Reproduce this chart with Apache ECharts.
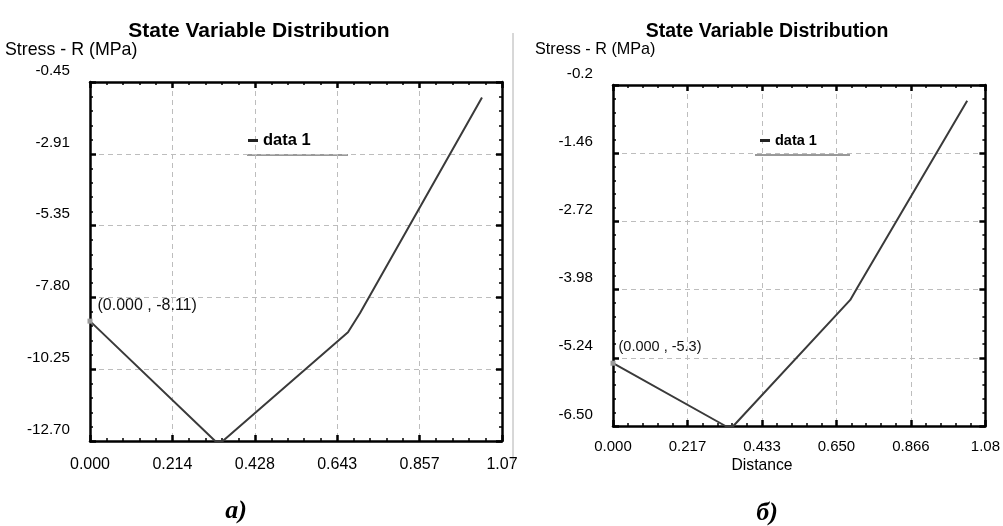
<!DOCTYPE html>
<html>
<head>
<meta charset="utf-8">
<script src="https://cdn.jsdelivr.net/npm/echarts@6/dist/echarts.min.js"></script>
<style>
  html, body { margin: 0; padding: 0; background: #fff; }
  #chart { width: 1003px; height: 526px; }
</style>
</head>
<body>
<div id="chart"></div>
<script>
// --- data ---
const titleText = "State Variable Distribution";
const yName = "Stress - R (MPa)";
const seriesName = "data 1";

// panel a)
const leftXLabels = ["0.000", "0.214", "0.428", "0.643", "0.857", "1.07"];
const leftYLabels = ["-12.70", "-10.25", "-7.80", "-5.35", "-2.91", "-0.45"];
const leftLine = [[0, -8.61], [0.325, -12.70], [0.345, -12.70], [0.670, -8.99], [0.701, -8.34], [1.018, -0.98]];
const leftNote = "(0.000 , -8.11)";

// panel б)
const rightXLabels = ["0.000", "0.217", "0.433", "0.650", "0.866", "1.08"];
const rightYLabels = ["-6.50", "-5.24", "-3.98", "-2.72", "-1.46", "-0.2"];
const rightLine = [[0, -5.34], [0.327, -6.50], [0.350, -6.50], [0.690, -4.17], [0.710, -3.95], [1.030, -0.49]];
const rightNote = "(0.000 , -5.3)";

const captions = ["а)", "б)"];

const sans = '"Liberation Sans", Arial, sans-serif';
const serif = '"Liberation Serif", "DejaVu Serif", serif';

const chart = echarts.init(document.getElementById("chart"));

function nearestLabel(values, labels, v) {
  let best = 0;
  values.forEach((t, i) => {
    if (Math.abs(t - v) < Math.abs(values[best] - v)) best = i;
  });
  return labels[best];
}

function minorValues(majors, parts) {
  const out = [];
  for (let i = 0; i < majors.length - 1; i++) {
    const step = (majors[i + 1] - majors[i]) / parts;
    for (let k = 1; k < parts; k++) out.push(majors[i] + k * step);
  }
  return out;
}

const gridLine = { show: true, lineStyle: { color: "#bdbdbd", type: [5, 4], width: 1 } };
const boxLine = { show: true, lineStyle: { color: "#000", width: 2.5 } };
const majorTick = { show: true, inside: true, length: 6, lineStyle: { color: "#000", width: 2.5 } };

function xAxes(grid, max, labels, fontSize, margin) {
  const interval = max / 5;
  const base = {
    type: "value", gridIndex: grid, min: 0, max: max, interval: interval,
    axisLine: boxLine, axisTick: majorTick,
    minorTick: { show: true, splitNumber: 5, length: 3, lineStyle: { color: "#000", width: 1.5 } },
  };
  return [
    Object.assign({}, base, {
      position: "bottom",
      splitLine: gridLine,
      axisLabel: {
        formatter: (v, i) => labels[i], margin: margin, color: "#000",
        fontFamily: sans, fontSize: fontSize,
      },
    }),
    Object.assign({}, base, {
      position: "top",
      splitLine: { show: false },
      axisLabel: { show: false },
    }),
  ];
}

function yAxes(grid, labels, fontSize) {
  const majors = labels.map(Number);
  const minors = minorValues(majors, 5);
  const min = majors[0];
  const max = majors[majors.length - 1];
  const base = { type: "value", gridIndex: grid, min: min, max: max };
  const minorAxis = (pos) => Object.assign({}, base, {
    position: pos,
    axisLine: { show: false },
    axisTick: { show: true, inside: true, length: 3, customValues: minors, lineStyle: { color: "#000", width: 1.5 } },
    axisLabel: { show: false },
    splitLine: { show: false },
  });
  return [
    Object.assign({}, base, {
      position: "left",
      axisLine: boxLine,
      axisTick: Object.assign({}, majorTick, { customValues: majors }),
      axisLabel: {
        customValues: majors,
        formatter: (v) => nearestLabel(majors, labels, v),
        margin: 20, color: "#000", verticalAlign: "bottom", padding: [0, 0, 4, 0],
        fontFamily: sans, fontSize: fontSize,
      },
      splitLine: gridLine,
    }),
    minorAxis("left"),
    Object.assign({}, base, {
      position: "right",
      axisLine: boxLine,
      axisTick: Object.assign({}, majorTick, { customValues: majors }),
      axisLabel: { show: false },
      splitLine: { show: false },
    }),
    minorAxis("right"),
  ];
}

function lineSeries(points, xIdx, yIdx, note, labelDist, fontSize) {
  return {
    name: seriesName,
    type: "line",
    xAxisIndex: xIdx,
    yAxisIndex: yIdx,
    showSymbol: true,
    lineStyle: { color: "#3a3a3a", width: 2 },
    itemStyle: { color: "#3a3a3a" },
    data: points.map((p, i) => i === 0
      ? {
          value: p, symbol: "rect", symbolSize: 5,
          itemStyle: { color: "#9a9a9a" },
          label: {
            show: true, position: "right", distance: labelDist, offset: [0, -16],
            formatter: () => note, color: "#111", fontFamily: sans, fontSize: fontSize,
          },
        }
      : { value: p, symbol: "none" }),
    animation: false,
  };
}

const legendBase = {
  data: [seriesName], icon: "rect", itemWidth: 10, itemHeight: 3, padding: 0,
  selectedMode: false,
  itemStyle: { color: "#222" },
  textStyle: { fontFamily: sans, fontWeight: "bold", color: "#000" },
};

const option = {
  backgroundColor: "#fff",
  animation: false,
  title: [
    { text: titleText, left: 254, top: 16, textAlign: "center",
      textStyle: { fontFamily: sans, fontWeight: "bold", fontSize: 21, color: "#000" } },
    { text: titleText, left: 762, top: 17, textAlign: "center",
      textStyle: { fontFamily: sans, fontWeight: "bold", fontSize: 19.5, color: "#000" } },
  ],
  legend: [
    Object.assign({}, legendBase, { left: 248, top: 132,
      textStyle: Object.assign({}, legendBase.textStyle, { fontSize: 16.5 }) }),
    Object.assign({}, legendBase, { left: 760, top: 133,
      textStyle: Object.assign({}, legendBase.textStyle, { fontSize: 14.5 }) }),
  ],
  grid: [
    { left: 90, top: 82, width: 412, height: 359 },
    { left: 613, top: 85, width: 377, height: 341 },
  ],
  xAxis: [].concat(
    xAxes(0, 1.07, leftXLabels, 16, 16),
    xAxes(1, 1.083, rightXLabels, 15, 13)
  ),
  yAxis: [].concat(
    yAxes(0, leftYLabels, 15.2),
    yAxes(1, rightYLabels, 15.2)
  ),
  series: [
    lineSeries(leftLine, 0, 0, leftNote, 5, 16),
    lineSeries(rightLine, 2, 4, rightNote, 3, 14.5),
  ],
  graphic: [
    { type: "line", shape: { x1: 513, y1: 33, x2: 513, y2: 463 }, style: { stroke: "#b0b0b0", lineWidth: 1 } },
    { type: "line", shape: { x1: 247, y1: 155, x2: 348, y2: 155 }, style: { stroke: "#777", lineWidth: 1.5 } },
    { type: "line", shape: { x1: 755, y1: 155, x2: 850, y2: 155 }, style: { stroke: "#777", lineWidth: 1.5 } },
    { type: "text", x: 5, y: 50, style: { text: yName, fill: "#000", font: "17.8px " + sans, verticalAlign: "middle" } },
    { type: "text", x: 535, y: 50, style: { text: yName, fill: "#000", font: "16.2px " + sans, verticalAlign: "middle" } },
    { type: "text", x: 762, y: 466, style: { text: "Distance", fill: "#000", font: "15.7px " + sans, align: "center", verticalAlign: "middle" } },
    { type: "text", x: 236, y: 511, style: { text: captions[0], fill: "#000", font: "italic bold 26px " + serif, align: "center", verticalAlign: "middle" } },
    { type: "text", x: 767, y: 513, style: { text: captions[1], fill: "#000", font: "italic bold 26px " + serif, align: "center", verticalAlign: "middle" } },
  ],
};

chart.setOption(option);
</script>
</body>
</html>
